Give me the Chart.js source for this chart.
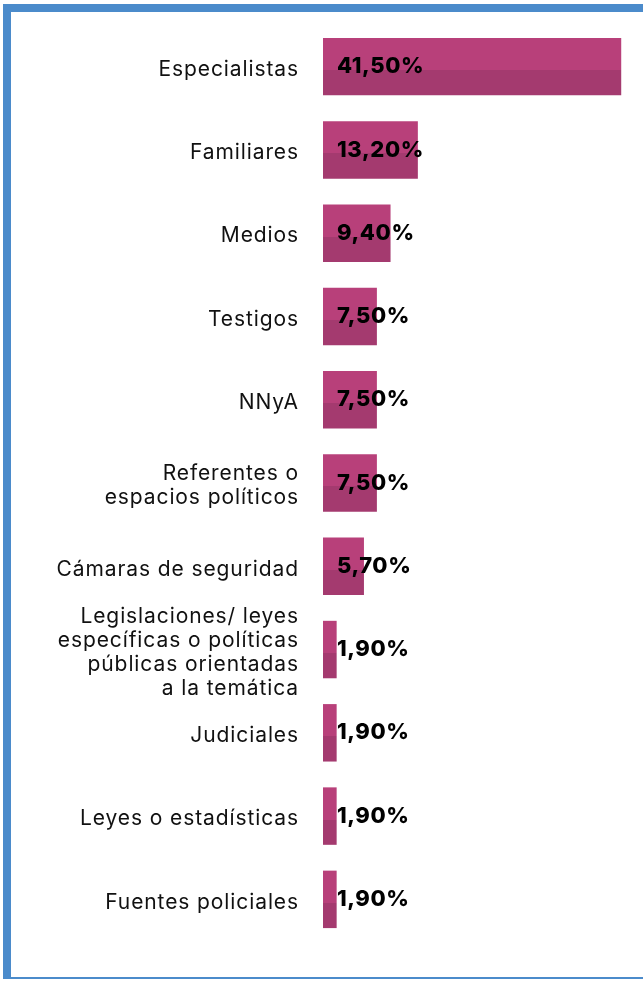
<!DOCTYPE html>
<html>
<head>
<meta charset="utf-8">
<script src="https://cdn.jsdelivr.net/npm/chart.js@4"></script>
<style>
  html, body { margin: 0; padding: 0; background: #fff; }
  #frame {
    position: absolute;
    left: 3px; top: 4px;
    width: 660px; height: 975px;
    border-left: 8px solid #4b8bcb;
    border-top: 8px solid #4b8bcb;
    border-bottom: 2px solid #4b8bcb;
    box-sizing: border-box;
  }
  #wrap { position: absolute; left: 0; top: 0; width: 643px; height: 982px; }
</style>
</head>
<body>
<div id="frame"></div>
<div id="wrap"><canvas id="chart"></canvas></div>
<script>
const categories = [
  "Especialistas",
  "Familiares",
  "Medios",
  "Testigos",
  "NNyA",
  ["Referentes o", "espacios políticos"],
  "Cámaras de seguridad",
  ["Legislaciones/ leyes", "específicas o políticas", "públicas orientadas", "a la temática"],
  "Judiciales",
  "Leyes o estadísticas",
  "Fuentes policiales"
];
const values = [41.5, 13.2, 9.4, 7.5, 7.5, 7.5, 5.7, 1.9, 1.9, 1.9, 1.9];
const valueLabels = ["41,50%", "13,20%", "9,40%", "7,50%", "7,50%", "7,50%", "5,70%", "1,90%", "1,90%", "1,90%", "1,90%"];

const FONT = "Inter, 'DejaVu Sans', sans-serif";
const BAR_PCT = 0.69;
const LABEL_SPACING = "0.9px";

// two-tone fill: lighter upper band, darker lower band
function barFill(context) {
  const chart = context.chart;
  const yScale = chart.scales.y;
  if (!yScale || context.dataIndex === undefined) return "#b8407a";
  const step = Math.abs(yScale.getPixelForValue(1) - yScale.getPixelForValue(0));
  const cy = yScale.getPixelForValue(context.dataIndex);
  const top = cy - step * BAR_PCT / 2;
  const bottom = cy + step * BAR_PCT / 2;
  if (!isFinite(top) || !isFinite(bottom) || bottom <= top) return "#b8407a";
  const g = chart.ctx.createLinearGradient(0, top, 0, bottom);
  g.addColorStop(0, "#b8407a");
  g.addColorStop(0.56, "#b8407a");
  g.addColorStop(0.56, "#a43a6f");
  g.addColorStop(1, "#a43a6f");
  return g;
}

// a bit of tracking on the category labels (closer to the original's wide font)
const spacing = {
  id: "spacing",
  beforeUpdate(chart) { chart.ctx.letterSpacing = LABEL_SPACING; },
  beforeDraw(chart) { chart.ctx.letterSpacing = LABEL_SPACING; }
};

const valueText = {
  id: "valueText",
  afterDatasetsDraw(chart) {
    const ctx = chart.ctx;
    const meta = chart.getDatasetMeta(0);
    const x0 = chart.scales.x.getPixelForValue(0);
    ctx.save();
    ctx.letterSpacing = "0.6px";
    ctx.font = "800 22px " + FONT;
    ctx.fillStyle = "#000";
    ctx.textAlign = "left";
    ctx.textBaseline = "middle";
    meta.data.forEach((bar, i) => {
      ctx.fillText(valueLabels[i], x0 + 14, bar.y);
    });
    ctx.restore();
  }
};

new Chart(document.getElementById("chart"), {
  type: "bar",
  data: {
    labels: categories,
    datasets: [{
      data: values,
      backgroundColor: barFill,
      categoryPercentage: 1,
      barPercentage: BAR_PCT,
      borderWidth: 0
    }]
  },
  options: {
    indexAxis: "y",
    responsive: true,
    maintainAspectRatio: false,
    animation: false,
    layout: { padding: { top: 25, bottom: 41, right: 11, left: 0 } },
    plugins: { legend: { display: false }, tooltip: { enabled: false } },
    scales: {
      x: {
        display: false,
        min: 0,
        max: 43
      },
      y: {
        grid: { display: false },
        border: { display: false },
        afterFit(scale) {
          scale.width = 323;
          scale.paddingTop = 0;
          scale.paddingBottom = 0;
        },
        ticks: {
          color: "#111",
          padding: 16,
          autoSkip: false,
          labelOffset: 3,
          font: { family: FONT, size: 21, lineHeight: 1.15 },
          crossAlign: "near"
        }
      }
    }
  },
  plugins: [spacing, valueText]
});
</script>
</body>
</html>
